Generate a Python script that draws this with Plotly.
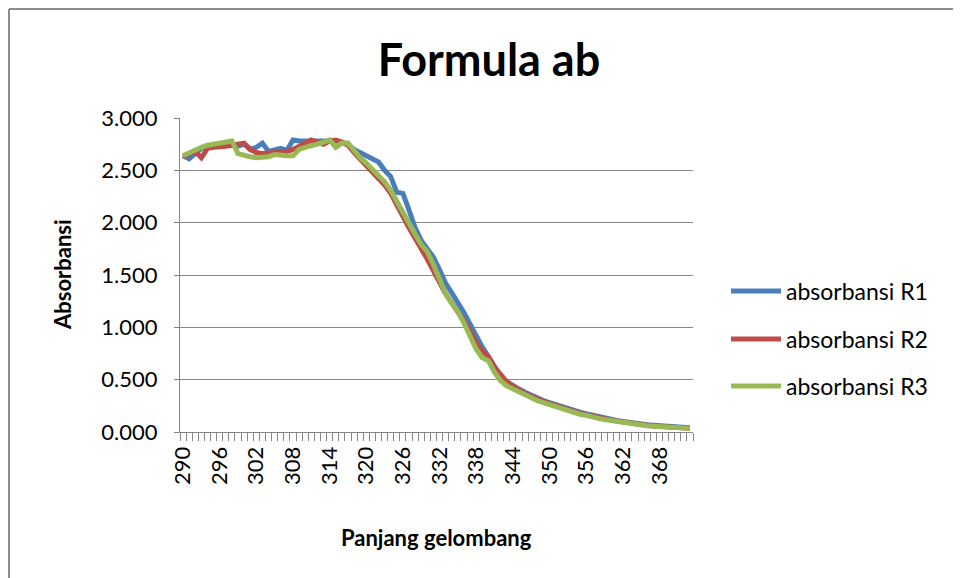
import plotly.graph_objects as go

wavelengths = list(range(290, 374))

absorbansi_r1 = [
    2.64, 2.61, 2.66, 2.71, 2.72, 2.74, 2.75, 2.75, 2.74, 2.73,
    2.75, 2.70, 2.72, 2.76, 2.68, 2.70, 2.71, 2.69, 2.79, 2.78,
    2.78, 2.78, 2.79, 2.78, 2.78, 2.78, 2.77, 2.75, 2.70, 2.67,
    2.64, 2.61, 2.58, 2.50, 2.44, 2.29, 2.28, 2.12, 1.95, 1.83,
    1.75, 1.67, 1.55, 1.42, 1.33, 1.24, 1.14, 1.03, 0.91, 0.81,
    0.72, 0.62, 0.53, 0.48, 0.44, 0.41, 0.38, 0.35, 0.32, 0.30,
    0.28, 0.26, 0.24, 0.22, 0.20, 0.19, 0.175, 0.16, 0.145, 0.135,
    0.12, 0.11, 0.10, 0.09, 0.085, 0.08, 0.07, 0.065, 0.06, 0.055,
    0.05, 0.048, 0.045, 0.04,
]

absorbansi_r2 = [
    2.63, 2.66, 2.68, 2.62, 2.71, 2.72, 2.72, 2.73, 2.74, 2.75,
    2.76, 2.70, 2.67, 2.66, 2.66, 2.67, 2.68, 2.68, 2.70, 2.73,
    2.76, 2.79, 2.77, 2.75, 2.78, 2.79, 2.77, 2.74, 2.67, 2.61,
    2.55, 2.49, 2.43, 2.36, 2.28, 2.18, 2.06, 1.95, 1.84, 1.75,
    1.65, 1.55, 1.43, 1.32, 1.24, 1.15, 1.06, 0.96, 0.85, 0.77,
    0.72, 0.62, 0.54, 0.48, 0.44, 0.40, 0.37, 0.34, 0.31, 0.29,
    0.27, 0.25, 0.23, 0.21, 0.195, 0.18, 0.165, 0.15, 0.14, 0.125,
    0.115, 0.105, 0.095, 0.085, 0.08, 0.072, 0.065, 0.058, 0.053, 0.05,
    0.046, 0.043, 0.04, 0.037,
]

absorbansi_r3 = [
    2.64, 2.67, 2.69, 2.72, 2.74, 2.75, 2.76, 2.77, 2.78, 2.66,
    2.64, 2.63, 2.62, 2.62, 2.63, 2.65, 2.64, 2.64, 2.64, 2.70,
    2.72, 2.73, 2.75, 2.77, 2.79, 2.72, 2.76, 2.76, 2.68, 2.62,
    2.57, 2.51, 2.45, 2.39, 2.31, 2.20, 2.09, 1.98, 1.89, 1.79,
    1.72, 1.60, 1.46, 1.32, 1.23, 1.15, 1.04, 0.92, 0.79, 0.71,
    0.68, 0.57, 0.49, 0.44, 0.41, 0.38, 0.35, 0.33, 0.30, 0.28,
    0.26, 0.24, 0.22, 0.20, 0.19, 0.17, 0.16, 0.14, 0.13, 0.12,
    0.11, 0.10, 0.09, 0.08, 0.075, 0.07, 0.06, 0.055, 0.05, 0.048,
    0.045, 0.042, 0.04, 0.035,
]

x_tick_labels = [str(v) for v in range(290, 369, 6)]
y_tick_vals = [0, 0.5, 1.0, 1.5, 2.0, 2.5, 3.0]
y_tick_text = ["0.000", "0.500", "1.000", "1.500", "2.000", "2.500", "3.000"]

series = [
    ("absorbansi R1", absorbansi_r1, "#4A7EBB", "legend", 291),
    ("absorbansi R2", absorbansi_r2, "#BE4B48", "legend2", 339),
    ("absorbansi R3", absorbansi_r3, "#98B954", "legend3", 386),
]

# page offset (browser body margin)
OFF = 8
W, H = 961 - OFF, 578 - OFF
L, R, T, B = 180 - OFF, 693 - OFF, 118 - OFF, 432 - OFF
pw, ph = R - L, B - T


def px(xs):
    return (xs - OFF - L) / pw


def py(ys):
    return (B - (ys - OFF)) / ph


font_family = "Lato, 'Open Sans', sans-serif"

fig = go.Figure()
legends = {}
for name, vals, color, leg, ly in series:
    fig.add_trace(go.Scatter(
        x=wavelengths, y=vals, mode="lines", name=name, legend=leg,
        line=dict(color=color, width=5),
    ))
    legends[leg] = dict(
        x=px(726), y=py(ly), xanchor="left", yanchor="middle",
        font=dict(size=23, family=font_family, color="black"),
        bgcolor="rgba(0,0,0,0)", itemwidth=50,
    )

fig.update_layout(
    width=W, height=H,
    margin=dict(l=L, r=W - R, t=T, b=H - B, autoexpand=False),
    paper_bgcolor="white", plot_bgcolor="white",
    font=dict(family=font_family, color="black", size=22),
    title=dict(text="<b>Formula ab</b>", xref="paper", x=px(489), xanchor="center",
               yref="container", y=1 - (60 - OFF) / H, yanchor="middle",
               font=dict(size=45, family=font_family, color="black")),
    showlegend=True,
    xaxis=dict(
        range=[289.5, 373.5], tickmode="array",
        tickvals=[int(t) for t in x_tick_labels], ticktext=x_tick_labels,
        tickangle=-90, ticks="", showgrid=False, zeroline=False,
        showline=True, linecolor="#868686", linewidth=1,
        tickfont=dict(size=22, family=font_family), ticklabelstandoff=5,
        minor=dict(ticks="outside", tick0=289.5, dtick=1, ticklen=8,
                   tickcolor="#868686", tickwidth=1, showgrid=False),
    ),
    yaxis=dict(
        range=[0, 3], tickmode="array", tickvals=y_tick_vals, ticktext=y_tick_text,
        ticks="outside", ticklen=5, tickcolor="#868686",
        showgrid=True, gridcolor="#868686", gridwidth=1, zeroline=False,
        showline=True, linecolor="#868686", linewidth=1,
        tickfont=dict(size=22, family=font_family), ticklabelstandoff=12,
    ),
    annotations=[
        dict(text="<b>Absorbansi</b>", xref="paper", yref="paper",
             x=px(62), y=py(275), xanchor="center", yanchor="middle",
             textangle=-90, showarrow=False,
             font=dict(size=22, family=font_family, color="black")),
        dict(text="<b>Panjang gelombang</b>", xref="paper", yref="paper",
             x=px(436), y=py(537), xanchor="center", yanchor="middle",
             showarrow=False,
             font=dict(size=22, family=font_family, color="black")),
    ],
    shapes=[
        dict(type="line", xref="paper", yref="paper", x0=px(9), x1=px(9),
             y0=py(9), y1=py(600), line=dict(color="#8C8C8C", width=2)),
        dict(type="line", xref="paper", yref="paper", x0=px(9), x1=px(980),
             y0=py(9), y1=py(9), line=dict(color="#8C8C8C", width=2)),
    ],
    **legends,
)

fig.write_html("out.html")
